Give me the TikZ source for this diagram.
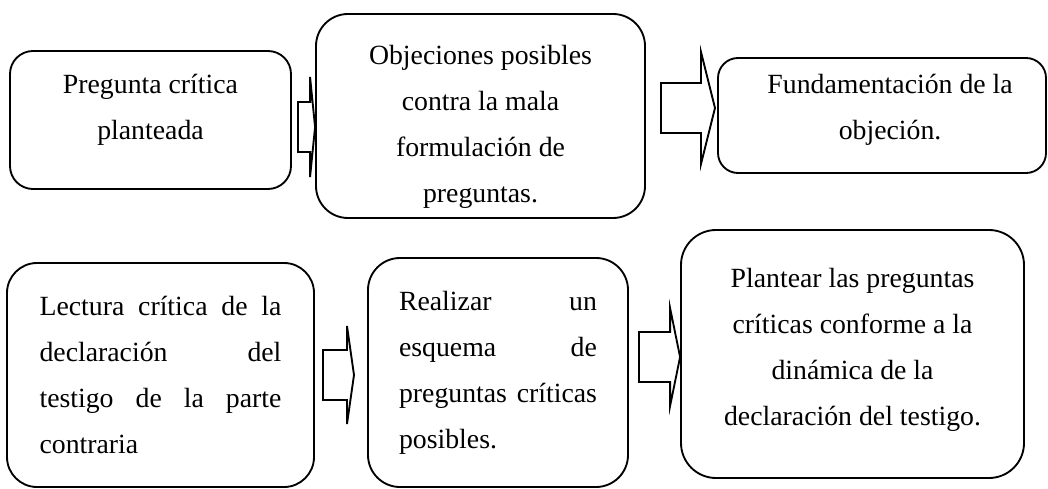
\documentclass[tikz,border=0pt]{standalone}
\usepackage{fontspec}
\setmainfont{Liberation Serif}
\usetikzlibrary{calc}
\def\pxu{0.432pt}
\hbadness=10000
\tolerance=10000
\tikzset{caja/.style={draw, thick, align=center, inner sep=0pt, font=\fontsize{12pt}{19.9pt}\selectfont}}
\tikzset{justo/.style={align=justify, text width=#1}}
\newcommand{\flecha}[4]{%
  \draw[thick, fill=white, line join=miter] ($(#1)+(0,-25)$) -- ($(#2)+(-#3,-25)$) -- ($(#2)+(-#3,-#4)$) -- (#2)
    -- ($(#2)+(-#3,#4)$) -- ($(#2)+(-#3,25)$) -- ($(#1)+(0,25)$) -- cycle;}

\begin{document}
\begin{tikzpicture}[x=0.432pt, y=-0.432pt]
\useasboundingbox (0,0) rectangle (1048,489);

\node[caja, minimum width=281*\pxu, minimum height=138*\pxu, rounded corners=23*\pxu] (b1) at (150.5,120) {Pregunta crítica\\planteada\rule[-11.2pt]{0pt}{11.2pt}};
\node[caja, minimum width=329*\pxu, minimum height=204*\pxu, rounded corners=32*\pxu] (b2) at (480.5,116) {\rule{0pt}{18pt}Objeciones posibles\\contra la mala\\formulación de\\preguntas.};
\node[caja, minimum width=328*\pxu, minimum height=115*\pxu, rounded corners=20*\pxu] (b3) at (882,115.5) {\hspace*{7pt}Fundamentación de la\\\hspace*{7pt}objeción.\rule[-7.8pt]{0pt}{7.8pt}};

\node[caja, justo=104.5pt, minimum width=307*\pxu, minimum height=224*\pxu, rounded corners=30*\pxu] (b4) at (160.5,375) {Lectura crítica de la\linebreak declaración del\linebreak testigo de la parte\linebreak contraria};
\node[caja, justo=85.5pt, minimum width=260*\pxu, minimum height=229*\pxu, rounded corners=32*\pxu] (b5) at (498,372.5) {Realizar un\linebreak esquema de\linebreak preguntas críticas\linebreak posibles.};
\node[caja, minimum width=343*\pxu, minimum height=248*\pxu, rounded corners=35*\pxu] (b6) at (852.5,354) {Plantear las preguntas\\críticas conforme a la\\dinámica de la\\declaración del testigo.\rule[-6pt]{0pt}{6pt}};

\coordinate (f1) at (298,127);
\coordinate (p1) at (b2.west |- f1);
\coordinate (f2) at (661,108);
\coordinate (p2) at (715,108);
\coordinate (f3) at (323,375);
\coordinate (p3) at (354,375);
\coordinate (f4) at (639,357);
\coordinate (p4) at (b6.west |- f4);

\flecha{f1}{p1}{5}{50}
\flecha{f2}{p2}{14}{56}
\flecha{f3}{p3}{7}{49}
\flecha{f4}{p4}{10}{49}

\end{tikzpicture}
\end{document}
